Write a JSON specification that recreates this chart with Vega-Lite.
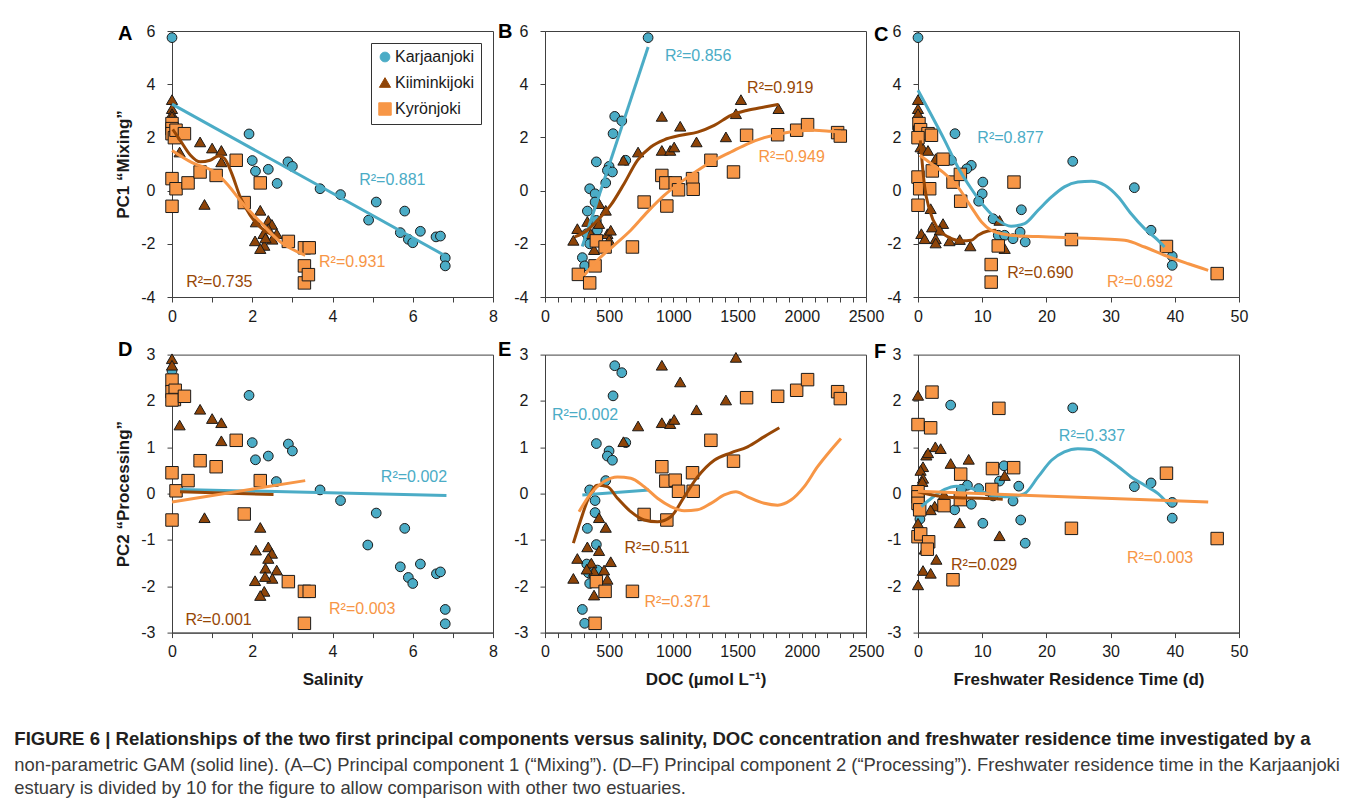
{
  "$schema": "https://vega.github.io/schema/vega-lite/v6.json",
  "background": "white",
  "padding": {"left": 14, "top": 21, "right": 5, "bottom": 5},
  "config": {
    "font": "Liberation Sans",
    "view": {"stroke": "#404040", "strokeWidth": 1},
    "axis": {"grid": false, "domainColor": "#404040", "tickColor": "#404040", "tickSize": 5, "labelFont": "Liberation Sans", "labelFontSize": 16, "labelColor": "#1a1a1a", "titleFont": "Liberation Sans", "titleFontSize": 17, "titleFontWeight": "bold", "titleColor": "#1a1a1a", "labelFlush": false, "labelOverlap": false, "labelBound": false},
    "axisX": {"labelPadding": 6, "titlePadding": 12},
    "axisY": {"labelPadding": 12, "titlePadding": 8}
  },
  "title": {
    "text": ["FIGURE 6 | Relationships of the two first principal components versus salinity, DOC concentration and freshwater residence time investigated by a"],
    "subtitle": ["non-parametric GAM (solid line). (A–C) Principal component 1 (“Mixing”). (D–F) Principal component 2 (“Processing”). Freshwater residence time in the Karjaanjoki", "estuary is divided by 10 for the figure to allow comparison with other two estuaries."],
    "orient": "bottom", "anchor": "start", "frame": "bounds", "dx": -100, "offset": 42,
    "font": "Liberation Sans", "fontSize": 18.6, "fontWeight": "bold", "color": "#231f20", "lineHeight": 23,
    "subtitleFont": "Liberation Sans", "subtitleFontSize": 18.4, "subtitleFontWeight": "normal", "subtitleColor": "#3a3a3a", "subtitleLineHeight": 23.5, "subtitlePadding": 7
  },
  "datasets": {
    "pts": [
      {"p":"A","r":"Karjaanjoki","x":0,"y":5.75},{"p":"A","r":"Karjaanjoki","x":1.92,"y":2.13},{"p":"A","r":"Karjaanjoki","x":2.0,"y":1.13},{"p":"A","r":"Karjaanjoki","x":2.08,"y":0.73},{"p":"A","r":"Karjaanjoki","x":2.4,"y":0.8},{"p":"A","r":"Karjaanjoki","x":2.62,"y":0.27},{"p":"A","r":"Karjaanjoki","x":2.89,"y":1.08},{"p":"A","r":"Karjaanjoki","x":3.0,"y":0.91},{"p":"A","r":"Karjaanjoki","x":3.69,"y":0.07},{"p":"A","r":"Karjaanjoki","x":4.2,"y":-0.15},{"p":"A","r":"Karjaanjoki","x":5.09,"y":-0.43},{"p":"A","r":"Karjaanjoki","x":4.9,"y":-1.11},{"p":"A","r":"Karjaanjoki","x":5.8,"y":-0.77},{"p":"A","r":"Karjaanjoki","x":5.69,"y":-1.58},{"p":"A","r":"Karjaanjoki","x":5.89,"y":-1.83},{"p":"A","r":"Karjaanjoki","x":6.0,"y":-1.96},{"p":"A","r":"Karjaanjoki","x":6.19,"y":-1.53},{"p":"A","r":"Karjaanjoki","x":6.58,"y":-1.74},{"p":"A","r":"Karjaanjoki","x":6.69,"y":-1.71},{"p":"A","r":"Karjaanjoki","x":6.81,"y":-2.53},{"p":"A","r":"Karjaanjoki","x":6.81,"y":-2.83},
      {"p":"A","r":"Kiiminkijoki","x":0,"y":3.42},{"p":"A","r":"Kiiminkijoki","x":0,"y":3.08},{"p":"A","r":"Kiiminkijoki","x":0,"y":2.89},{"p":"A","r":"Kiiminkijoki","x":0,"y":2.79},{"p":"A","r":"Kiiminkijoki","x":0.19,"y":1.45},{"p":"A","r":"Kiiminkijoki","x":0.7,"y":1.83},{"p":"A","r":"Kiiminkijoki","x":1.0,"y":1.6},{"p":"A","r":"Kiiminkijoki","x":1.23,"y":1.51},{"p":"A","r":"Kiiminkijoki","x":1.23,"y":1.08},{"p":"A","r":"Kiiminkijoki","x":0.81,"y":-0.52},{"p":"A","r":"Kiiminkijoki","x":2.2,"y":-0.74},{"p":"A","r":"Kiiminkijoki","x":2.09,"y":-1.18},{"p":"A","r":"Kiiminkijoki","x":2.4,"y":-1.12},{"p":"A","r":"Kiiminkijoki","x":2.49,"y":-1.27},{"p":"A","r":"Kiiminkijoki","x":2.4,"y":-1.43},{"p":"A","r":"Kiiminkijoki","x":2.28,"y":-1.62},{"p":"A","r":"Kiiminkijoki","x":2.61,"y":-1.62},{"p":"A","r":"Kiiminkijoki","x":2.5,"y":-1.83},{"p":"A","r":"Kiiminkijoki","x":2.07,"y":-1.89},{"p":"A","r":"Kiiminkijoki","x":2.3,"y":-2.06},{"p":"A","r":"Kiiminkijoki","x":2.2,"y":-2.18},{"p":"A","r":"Kiiminkijoki","x":2.33,"y":-1.78},
      {"p":"A","r":"Kyrönjoki","x":0,"y":2.52},{"p":"A","r":"Kyrönjoki","x":0,"y":2.33},{"p":"A","r":"Kyrönjoki","x":0,"y":2.14},{"p":"A","r":"Kyrönjoki","x":0.06,"y":1.99},{"p":"A","r":"Kyrönjoki","x":0.1,"y":2.27},{"p":"A","r":"Kyrönjoki","x":0.31,"y":2.14},{"p":"A","r":"Kyrönjoki","x":0,"y":0.45},{"p":"A","r":"Kyrönjoki","x":0.1,"y":0.07},{"p":"A","r":"Kyrönjoki","x":0.4,"y":0.29},{"p":"A","r":"Kyrönjoki","x":0.7,"y":0.7},{"p":"A","r":"Kyrönjoki","x":1.1,"y":0.57},{"p":"A","r":"Kyrönjoki","x":1.6,"y":1.14},{"p":"A","r":"Kyrönjoki","x":2.2,"y":0.29},{"p":"A","r":"Kyrönjoki","x":1.8,"y":-0.45},{"p":"A","r":"Kyrönjoki","x":0,"y":-0.59},{"p":"A","r":"Kyrönjoki","x":2.9,"y":-1.91},{"p":"A","r":"Kyrönjoki","x":3.3,"y":-2.15},{"p":"A","r":"Kyrönjoki","x":3.42,"y":-2.15},{"p":"A","r":"Kyrönjoki","x":3.3,"y":-2.83},{"p":"A","r":"Kyrönjoki","x":3.3,"y":-3.47},{"p":"A","r":"Kyrönjoki","x":3.4,"y":-3.16},

      {"p":"B","r":"Karjaanjoki","x":803,"y":5.75},{"p":"B","r":"Karjaanjoki","x":543,"y":2.79},{"p":"B","r":"Karjaanjoki","x":598,"y":2.62},{"p":"B","r":"Karjaanjoki","x":530,"y":2.14},{"p":"B","r":"Karjaanjoki","x":400,"y":1.08},{"p":"B","r":"Karjaanjoki","x":629,"y":1.14},{"p":"B","r":"Karjaanjoki","x":499,"y":0.91},{"p":"B","r":"Karjaanjoki","x":486,"y":0.76},{"p":"B","r":"Karjaanjoki","x":525,"y":0.7},{"p":"B","r":"Karjaanjoki","x":473,"y":0.29},{"p":"B","r":"Karjaanjoki","x":348,"y":0.07},{"p":"B","r":"Karjaanjoki","x":390,"y":-0.12},{"p":"B","r":"Karjaanjoki","x":390,"y":-0.43},{"p":"B","r":"Karjaanjoki","x":330,"y":-0.77},{"p":"B","r":"Karjaanjoki","x":400,"y":-1.12},{"p":"B","r":"Karjaanjoki","x":325,"y":-1.62},{"p":"B","r":"Karjaanjoki","x":338,"y":-1.85},{"p":"B","r":"Karjaanjoki","x":348,"y":-2.0},{"p":"B","r":"Karjaanjoki","x":291,"y":-2.52},{"p":"B","r":"Karjaanjoki","x":309,"y":-2.83},{"p":"B","r":"Karjaanjoki","x":408,"y":-1.49},
      {"p":"B","r":"Kiiminkijoki","x":221,"y":-1.87},{"p":"B","r":"Kiiminkijoki","x":252,"y":-1.43},{"p":"B","r":"Kiiminkijoki","x":330,"y":-1.16},{"p":"B","r":"Kiiminkijoki","x":356,"y":-1.62},{"p":"B","r":"Kiiminkijoki","x":382,"y":-2.22},{"p":"B","r":"Kiiminkijoki","x":421,"y":-1.24},{"p":"B","r":"Kiiminkijoki","x":421,"y":-0.49},{"p":"B","r":"Kiiminkijoki","x":473,"y":-0.74},{"p":"B","r":"Kiiminkijoki","x":486,"y":-1.62},{"p":"B","r":"Kiiminkijoki","x":499,"y":-1.85},{"p":"B","r":"Kiiminkijoki","x":512,"y":-1.49},{"p":"B","r":"Kiiminkijoki","x":611,"y":1.14},{"p":"B","r":"Kiiminkijoki","x":725,"y":1.45},{"p":"B","r":"Kiiminkijoki","x":910,"y":2.79},{"p":"B","r":"Kiiminkijoki","x":910,"y":1.51},{"p":"B","r":"Kiiminkijoki","x":975,"y":1.51},{"p":"B","r":"Kiiminkijoki","x":1006,"y":1.64},{"p":"B","r":"Kiiminkijoki","x":1053,"y":2.42},{"p":"B","r":"Kiiminkijoki","x":1180,"y":1.83},{"p":"B","r":"Kiiminkijoki","x":1409,"y":2.02},{"p":"B","r":"Kiiminkijoki","x":1487,"y":2.89},{"p":"B","r":"Kiiminkijoki","x":1526,"y":3.42},{"p":"B","r":"Kiiminkijoki","x":1819,"y":3.08},
      {"p":"B","r":"Kyrönjoki","x":260,"y":-3.15},{"p":"B","r":"Kyrönjoki","x":348,"y":-3.47},{"p":"B","r":"Kyrönjoki","x":390,"y":-2.83},{"p":"B","r":"Kyrönjoki","x":400,"y":-1.89},{"p":"B","r":"Kyrönjoki","x":468,"y":-2.12},{"p":"B","r":"Kyrönjoki","x":681,"y":-2.12},{"p":"B","r":"Kyrönjoki","x":772,"y":-0.43},{"p":"B","r":"Kyrönjoki","x":910,"y":0.57},{"p":"B","r":"Kyrönjoki","x":941,"y":0.29},{"p":"B","r":"Kyrönjoki","x":949,"y":-0.58},{"p":"B","r":"Kyrönjoki","x":1014,"y":0.29},{"p":"B","r":"Kyrönjoki","x":1040,"y":0.03},{"p":"B","r":"Kyrönjoki","x":1149,"y":0.45},{"p":"B","r":"Kyrönjoki","x":1154,"y":0.05},{"p":"B","r":"Kyrönjoki","x":1292,"y":1.14},{"p":"B","r":"Kyrönjoki","x":1468,"y":0.7},{"p":"B","r":"Kyrönjoki","x":1570,"y":2.08},{"p":"B","r":"Kyrönjoki","x":1812,"y":2.1},{"p":"B","r":"Kyrönjoki","x":1960,"y":2.27},{"p":"B","r":"Kyrönjoki","x":2045,"y":2.48},{"p":"B","r":"Kyrönjoki","x":2279,"y":2.18},{"p":"B","r":"Kyrönjoki","x":2300,"y":2.05},

      {"p":"C","r":"Karjaanjoki","x":0,"y":5.75},{"p":"C","r":"Karjaanjoki","x":5.76,"y":2.14},{"p":"C","r":"Karjaanjoki","x":5.19,"y":1.14},{"p":"C","r":"Karjaanjoki","x":8.3,"y":0.95},{"p":"C","r":"Karjaanjoki","x":7.6,"y":0.82},{"p":"C","r":"Karjaanjoki","x":10.1,"y":0.32},{"p":"C","r":"Karjaanjoki","x":10.0,"y":-0.12},{"p":"C","r":"Karjaanjoki","x":9.45,"y":-0.4},{"p":"C","r":"Karjaanjoki","x":11.7,"y":-1.06},{"p":"C","r":"Karjaanjoki","x":16.1,"y":-0.72},{"p":"C","r":"Karjaanjoki","x":15.9,"y":-1.56},{"p":"C","r":"Karjaanjoki","x":12.5,"y":-1.68},{"p":"C","r":"Karjaanjoki","x":13.5,"y":-1.68},{"p":"C","r":"Karjaanjoki","x":14.8,"y":-1.81},{"p":"C","r":"Karjaanjoki","x":16.7,"y":-1.93},{"p":"C","r":"Karjaanjoki","x":24.1,"y":1.1},{"p":"C","r":"Karjaanjoki","x":33.7,"y":0.11},{"p":"C","r":"Karjaanjoki","x":36.3,"y":-1.49},{"p":"C","r":"Karjaanjoki","x":39.6,"y":-2.47},{"p":"C","r":"Karjaanjoki","x":39.6,"y":-2.81},
      {"p":"C","r":"Kiiminkijoki","x":0,"y":3.42},{"p":"C","r":"Kiiminkijoki","x":0,"y":3.08},{"p":"C","r":"Kiiminkijoki","x":0,"y":2.89},{"p":"C","r":"Kiiminkijoki","x":0.4,"y":1.64},{"p":"C","r":"Kiiminkijoki","x":0.8,"y":1.58},{"p":"C","r":"Kiiminkijoki","x":1.56,"y":1.51},{"p":"C","r":"Kiiminkijoki","x":2.75,"y":1.2},{"p":"C","r":"Kiiminkijoki","x":1.97,"y":-0.68},{"p":"C","r":"Kiiminkijoki","x":3.9,"y":-1.24},{"p":"C","r":"Kiiminkijoki","x":2.2,"y":-1.37},{"p":"C","r":"Kiiminkijoki","x":3.4,"y":-1.49},{"p":"C","r":"Kiiminkijoki","x":0.52,"y":-1.62},{"p":"C","r":"Kiiminkijoki","x":1.04,"y":-1.81},{"p":"C","r":"Kiiminkijoki","x":2.75,"y":-1.81},{"p":"C","r":"Kiiminkijoki","x":4.9,"y":-1.89},{"p":"C","r":"Kiiminkijoki","x":6.5,"y":-1.84},{"p":"C","r":"Kiiminkijoki","x":8.15,"y":-2.08},{"p":"C","r":"Kiiminkijoki","x":2.75,"y":-1.97},{"p":"C","r":"Kiiminkijoki","x":12.7,"y":-1.12},{"p":"C","r":"Kiiminkijoki","x":13.5,"y":-2.18},
      {"p":"C","r":"Kyrönjoki","x":0.15,"y":2.52},{"p":"C","r":"Kyrönjoki","x":0.26,"y":2.2},{"p":"C","r":"Kyrönjoki","x":0.4,"y":2.29},{"p":"C","r":"Kyrönjoki","x":1.56,"y":2.14},{"p":"C","r":"Kyrönjoki","x":2.1,"y":2.08},{"p":"C","r":"Kyrönjoki","x":0,"y":1.99},{"p":"C","r":"Kyrönjoki","x":0,"y":0.51},{"p":"C","r":"Kyrönjoki","x":0.26,"y":0.07},{"p":"C","r":"Kyrönjoki","x":1.82,"y":0.07},{"p":"C","r":"Kyrönjoki","x":2.23,"y":0.74},{"p":"C","r":"Kyrönjoki","x":3.9,"y":1.18},{"p":"C","r":"Kyrönjoki","x":5.45,"y":0.32},{"p":"C","r":"Kyrönjoki","x":6.6,"y":0.61},{"p":"C","r":"Kyrönjoki","x":6.65,"y":-0.4},{"p":"C","r":"Kyrönjoki","x":14.95,"y":0.32},{"p":"C","r":"Kyrönjoki","x":0,"y":-0.55},{"p":"C","r":"Kyrönjoki","x":12.5,"y":-2.08},{"p":"C","r":"Kyrönjoki","x":11.4,"y":-2.78},{"p":"C","r":"Kyrönjoki","x":11.4,"y":-3.44},{"p":"C","r":"Kyrönjoki","x":23.9,"y":-1.84},{"p":"C","r":"Kyrönjoki","x":38.7,"y":-2.1},{"p":"C","r":"Kyrönjoki","x":46.6,"y":-3.12},

      {"p":"D","r":"Karjaanjoki","x":0,"y":2.65},{"p":"D","r":"Karjaanjoki","x":1.92,"y":2.12},{"p":"D","r":"Karjaanjoki","x":2.0,"y":1.1},{"p":"D","r":"Karjaanjoki","x":2.08,"y":0.73},{"p":"D","r":"Karjaanjoki","x":2.4,"y":0.81},{"p":"D","r":"Karjaanjoki","x":2.6,"y":0.26},{"p":"D","r":"Karjaanjoki","x":2.9,"y":1.07},{"p":"D","r":"Karjaanjoki","x":3.0,"y":0.92},{"p":"D","r":"Karjaanjoki","x":3.69,"y":0.08},{"p":"D","r":"Karjaanjoki","x":4.2,"y":-0.15},{"p":"D","r":"Karjaanjoki","x":5.09,"y":-0.42},{"p":"D","r":"Karjaanjoki","x":4.88,"y":-1.11},{"p":"D","r":"Karjaanjoki","x":5.8,"y":-0.75},{"p":"D","r":"Karjaanjoki","x":5.69,"y":-1.58},{"p":"D","r":"Karjaanjoki","x":5.89,"y":-1.81},{"p":"D","r":"Karjaanjoki","x":6.0,"y":-1.94},{"p":"D","r":"Karjaanjoki","x":6.19,"y":-1.52},{"p":"D","r":"Karjaanjoki","x":6.59,"y":-1.73},{"p":"D","r":"Karjaanjoki","x":6.69,"y":-1.69},{"p":"D","r":"Karjaanjoki","x":6.81,"y":-2.5},{"p":"D","r":"Karjaanjoki","x":6.81,"y":-2.81},
      {"p":"D","r":"Kiiminkijoki","x":0,"y":2.91},{"p":"D","r":"Kiiminkijoki","x":0,"y":2.77},{"p":"D","r":"Kiiminkijoki","x":0,"y":2.09},{"p":"D","r":"Kiiminkijoki","x":0.19,"y":1.48},{"p":"D","r":"Kiiminkijoki","x":0.7,"y":1.82},{"p":"D","r":"Kiiminkijoki","x":1.0,"y":1.62},{"p":"D","r":"Kiiminkijoki","x":1.23,"y":1.53},{"p":"D","r":"Kiiminkijoki","x":1.23,"y":1.14},{"p":"D","r":"Kiiminkijoki","x":0.81,"y":-0.52},{"p":"D","r":"Kiiminkijoki","x":2.2,"y":-0.73},{"p":"D","r":"Kiiminkijoki","x":2.09,"y":-1.22},{"p":"D","r":"Kiiminkijoki","x":2.4,"y":-1.15},{"p":"D","r":"Kiiminkijoki","x":2.49,"y":-1.29},{"p":"D","r":"Kiiminkijoki","x":2.4,"y":-1.4},{"p":"D","r":"Kiiminkijoki","x":2.33,"y":-1.61},{"p":"D","r":"Kiiminkijoki","x":2.61,"y":-1.65},{"p":"D","r":"Kiiminkijoki","x":2.5,"y":-1.83},{"p":"D","r":"Kiiminkijoki","x":2.07,"y":-1.88},{"p":"D","r":"Kiiminkijoki","x":2.3,"y":-2.11},{"p":"D","r":"Kiiminkijoki","x":2.2,"y":-2.2},{"p":"D","r":"Kiiminkijoki","x":2.32,"y":-1.79},
      {"p":"D","r":"Kyrönjoki","x":0,"y":2.45},{"p":"D","r":"Kyrönjoki","x":0,"y":2.2},{"p":"D","r":"Kyrönjoki","x":0.08,"y":2.23},{"p":"D","r":"Kyrönjoki","x":0.06,"y":2.03},{"p":"D","r":"Kyrönjoki","x":0,"y":2.02},{"p":"D","r":"Kyrönjoki","x":0.31,"y":2.1},{"p":"D","r":"Kyrönjoki","x":0,"y":0.45},{"p":"D","r":"Kyrönjoki","x":0.1,"y":0.06},{"p":"D","r":"Kyrönjoki","x":0.4,"y":0.28},{"p":"D","r":"Kyrönjoki","x":0.7,"y":0.71},{"p":"D","r":"Kyrönjoki","x":1.1,"y":0.58},{"p":"D","r":"Kyrönjoki","x":1.6,"y":1.15},{"p":"D","r":"Kyrönjoki","x":2.2,"y":0.28},{"p":"D","r":"Kyrönjoki","x":1.8,"y":-0.44},{"p":"D","r":"Kyrönjoki","x":0,"y":-0.57},{"p":"D","r":"Kyrönjoki","x":2.9,"y":-1.9},{"p":"D","r":"Kyrönjoki","x":3.3,"y":-2.11},{"p":"D","r":"Kyrönjoki","x":3.42,"y":-2.11},{"p":"D","r":"Kyrönjoki","x":3.3,"y":-2.8},

      {"p":"E","r":"Karjaanjoki","x":543,"y":2.76},{"p":"E","r":"Karjaanjoki","x":598,"y":2.61},{"p":"E","r":"Karjaanjoki","x":530,"y":2.11},{"p":"E","r":"Karjaanjoki","x":400,"y":1.08},{"p":"E","r":"Karjaanjoki","x":629,"y":1.1},{"p":"E","r":"Karjaanjoki","x":499,"y":0.92},{"p":"E","r":"Karjaanjoki","x":486,"y":0.81},{"p":"E","r":"Karjaanjoki","x":525,"y":0.72},{"p":"E","r":"Karjaanjoki","x":473,"y":0.28},{"p":"E","r":"Karjaanjoki","x":348,"y":0.08},{"p":"E","r":"Karjaanjoki","x":390,"y":-0.15},{"p":"E","r":"Karjaanjoki","x":390,"y":-0.41},{"p":"E","r":"Karjaanjoki","x":330,"y":-0.75},{"p":"E","r":"Karjaanjoki","x":400,"y":-1.1},{"p":"E","r":"Karjaanjoki","x":325,"y":-1.52},{"p":"E","r":"Karjaanjoki","x":338,"y":-1.71},{"p":"E","r":"Karjaanjoki","x":348,"y":-1.94},{"p":"E","r":"Karjaanjoki","x":291,"y":-2.5},{"p":"E","r":"Karjaanjoki","x":309,"y":-2.8},{"p":"E","r":"Karjaanjoki","x":408,"y":-1.65},
      {"p":"E","r":"Kiiminkijoki","x":221,"y":-1.83},{"p":"E","r":"Kiiminkijoki","x":252,"y":-1.4},{"p":"E","r":"Kiiminkijoki","x":330,"y":-1.15},{"p":"E","r":"Kiiminkijoki","x":361,"y":-1.5},{"p":"E","r":"Kiiminkijoki","x":382,"y":-2.19},{"p":"E","r":"Kiiminkijoki","x":421,"y":-1.23},{"p":"E","r":"Kiiminkijoki","x":421,"y":-0.52},{"p":"E","r":"Kiiminkijoki","x":473,"y":-0.73},{"p":"E","r":"Kiiminkijoki","x":382,"y":-1.68},{"p":"E","r":"Kiiminkijoki","x":486,"y":-1.85},{"p":"E","r":"Kiiminkijoki","x":512,"y":-1.47},{"p":"E","r":"Kiiminkijoki","x":460,"y":-1.65},{"p":"E","r":"Kiiminkijoki","x":611,"y":1.12},{"p":"E","r":"Kiiminkijoki","x":725,"y":1.46},{"p":"E","r":"Kiiminkijoki","x":910,"y":2.77},{"p":"E","r":"Kiiminkijoki","x":910,"y":1.53},{"p":"E","r":"Kiiminkijoki","x":975,"y":1.51},{"p":"E","r":"Kiiminkijoki","x":1006,"y":1.6},{"p":"E","r":"Kiiminkijoki","x":1053,"y":2.41},{"p":"E","r":"Kiiminkijoki","x":1180,"y":1.81},{"p":"E","r":"Kiiminkijoki","x":1409,"y":2.02},{"p":"E","r":"Kiiminkijoki","x":1487,"y":2.94},{"p":"E","r":"Kiiminkijoki","x":325,"y":-1.63},
      {"p":"E","r":"Kyrönjoki","x":390,"y":-2.8},{"p":"E","r":"Kyrönjoki","x":400,"y":-1.9},{"p":"E","r":"Kyrönjoki","x":468,"y":-2.11},{"p":"E","r":"Kyrönjoki","x":681,"y":-2.11},{"p":"E","r":"Kyrönjoki","x":772,"y":-0.45},{"p":"E","r":"Kyrönjoki","x":910,"y":0.58},{"p":"E","r":"Kyrönjoki","x":941,"y":0.27},{"p":"E","r":"Kyrönjoki","x":949,"y":-0.57},{"p":"E","r":"Kyrönjoki","x":1014,"y":0.29},{"p":"E","r":"Kyrönjoki","x":1040,"y":0.05},{"p":"E","r":"Kyrönjoki","x":1149,"y":0.45},{"p":"E","r":"Kyrönjoki","x":1154,"y":0.05},{"p":"E","r":"Kyrönjoki","x":1292,"y":1.15},{"p":"E","r":"Kyrönjoki","x":1468,"y":0.7},{"p":"E","r":"Kyrönjoki","x":1570,"y":2.07},{"p":"E","r":"Kyrönjoki","x":1812,"y":2.1},{"p":"E","r":"Kyrönjoki","x":1960,"y":2.23},{"p":"E","r":"Kyrönjoki","x":2045,"y":2.46},{"p":"E","r":"Kyrönjoki","x":2279,"y":2.2},{"p":"E","r":"Kyrönjoki","x":2300,"y":2.05},

      {"p":"F","r":"Karjaanjoki","x":5.09,"y":1.91},{"p":"F","r":"Karjaanjoki","x":24.1,"y":1.85},{"p":"F","r":"Karjaanjoki","x":13.4,"y":0.6},{"p":"F","r":"Karjaanjoki","x":12.7,"y":0.27},{"p":"F","r":"Karjaanjoki","x":15.7,"y":0.16},{"p":"F","r":"Karjaanjoki","x":9.45,"y":0.11},{"p":"F","r":"Karjaanjoki","x":7.7,"y":0.18},{"p":"F","r":"Karjaanjoki","x":6.75,"y":0.09},{"p":"F","r":"Karjaanjoki","x":8.3,"y":-0.23},{"p":"F","r":"Karjaanjoki","x":11.7,"y":-0.05},{"p":"F","r":"Karjaanjoki","x":14.8,"y":-0.16},{"p":"F","r":"Karjaanjoki","x":5.71,"y":-0.35},{"p":"F","r":"Karjaanjoki","x":10.1,"y":-0.64},{"p":"F","r":"Karjaanjoki","x":16.0,"y":-0.57},{"p":"F","r":"Karjaanjoki","x":16.7,"y":-1.07},{"p":"F","r":"Karjaanjoki","x":33.7,"y":0.15},{"p":"F","r":"Karjaanjoki","x":36.3,"y":0.23},{"p":"F","r":"Karjaanjoki","x":39.6,"y":-0.19},{"p":"F","r":"Karjaanjoki","x":39.6,"y":-0.53},{"p":"F","r":"Karjaanjoki","x":0,"y":-0.35},{"p":"F","r":"Karjaanjoki","x":0.3,"y":-0.55},
      {"p":"F","r":"Kiiminkijoki","x":0,"y":2.12},{"p":"F","r":"Kiiminkijoki","x":0,"y":-1.97},{"p":"F","r":"Kiiminkijoki","x":0.78,"y":-1.66},{"p":"F","r":"Kiiminkijoki","x":1.97,"y":-1.72},{"p":"F","r":"Kiiminkijoki","x":2.86,"y":-1.42},{"p":"F","r":"Kiiminkijoki","x":1.04,"y":-1.2},{"p":"F","r":"Kiiminkijoki","x":0,"y":-0.64},{"p":"F","r":"Kiiminkijoki","x":1.3,"y":0.83},{"p":"F","r":"Kiiminkijoki","x":1.56,"y":0.88},{"p":"F","r":"Kiiminkijoki","x":2.7,"y":1.01},{"p":"F","r":"Kiiminkijoki","x":3.53,"y":0.97},{"p":"F","r":"Kiiminkijoki","x":0.78,"y":0.58},{"p":"F","r":"Kiiminkijoki","x":0.4,"y":0.5},{"p":"F","r":"Kiiminkijoki","x":0.78,"y":0.33},{"p":"F","r":"Kiiminkijoki","x":0.67,"y":0.26},{"p":"F","r":"Kiiminkijoki","x":5.09,"y":0.65},{"p":"F","r":"Kiiminkijoki","x":7.9,"y":0.74},{"p":"F","r":"Kiiminkijoki","x":4.05,"y":-0.02},{"p":"F","r":"Kiiminkijoki","x":2.6,"y":-0.27},{"p":"F","r":"Kiiminkijoki","x":1.97,"y":-0.35},{"p":"F","r":"Kiiminkijoki","x":6.5,"y":-0.63},{"p":"F","r":"Kiiminkijoki","x":12.7,"y":-0.91},{"p":"F","r":"Kiiminkijoki","x":13.5,"y":0.39},
      {"p":"F","r":"Kyrönjoki","x":2.18,"y":2.19},{"p":"F","r":"Kyrönjoki","x":0,"y":1.49},{"p":"F","r":"Kyrönjoki","x":1.97,"y":1.42},{"p":"F","r":"Kyrönjoki","x":12.6,"y":1.84},{"p":"F","r":"Kyrönjoki","x":0,"y":0.04},{"p":"F","r":"Kyrönjoki","x":0,"y":-0.07},{"p":"F","r":"Kyrönjoki","x":0,"y":-0.21},{"p":"F","r":"Kyrönjoki","x":0.26,"y":-0.35},{"p":"F","r":"Kyrönjoki","x":0,"y":-0.93},{"p":"F","r":"Kyrönjoki","x":0.42,"y":-0.87},{"p":"F","r":"Kyrönjoki","x":1.66,"y":-1.04},{"p":"F","r":"Kyrönjoki","x":1.45,"y":-1.2},{"p":"F","r":"Kyrönjoki","x":5.45,"y":-1.86},{"p":"F","r":"Kyrönjoki","x":6.65,"y":0.42},{"p":"F","r":"Kyrönjoki","x":6.6,"y":-0.13},{"p":"F","r":"Kyrönjoki","x":4.05,"y":-0.26},{"p":"F","r":"Kyrönjoki","x":11.6,"y":0.54},{"p":"F","r":"Kyrönjoki","x":11.5,"y":0.09},{"p":"F","r":"Kyrönjoki","x":14.9,"y":0.56},{"p":"F","r":"Kyrönjoki","x":23.9,"y":-0.75},{"p":"F","r":"Kyrönjoki","x":38.7,"y":0.44},{"p":"F","r":"Kyrönjoki","x":46.6,"y":-0.97}
    ],
    "gam": [
      {"p":"A","r":"Karjaanjoki","x":0,"y":3.25},{"p":"A","r":"Karjaanjoki","x":6.81,"y":-2.45},
      {"p":"A","r":"Kiiminkijoki","x":0.02,"y":2.3},{"p":"A","r":"Kiiminkijoki","x":0.2,"y":1.9},{"p":"A","r":"Kiiminkijoki","x":0.46,"y":1.33},{"p":"A","r":"Kiiminkijoki","x":0.7,"y":1.08},{"p":"A","r":"Kiiminkijoki","x":0.95,"y":1.14},{"p":"A","r":"Kiiminkijoki","x":1.16,"y":1.3},{"p":"A","r":"Kiiminkijoki","x":1.3,"y":1.22},{"p":"A","r":"Kiiminkijoki","x":1.49,"y":0.64},{"p":"A","r":"Kiiminkijoki","x":1.7,"y":-0.24},{"p":"A","r":"Kiiminkijoki","x":1.95,"y":-0.93},{"p":"A","r":"Kiiminkijoki","x":2.2,"y":-1.37},{"p":"A","r":"Kiiminkijoki","x":2.53,"y":-1.68},{"p":"A","r":"Kiiminkijoki","x":2.7,"y":-1.77},
      {"p":"A","r":"Kyrönjoki","x":0,"y":1.51},{"p":"A","r":"Kyrönjoki","x":0.5,"y":1.05},{"p":"A","r":"Kyrönjoki","x":1.12,"y":0.64},{"p":"A","r":"Kyrönjoki","x":1.4,"y":0.2},{"p":"A","r":"Kyrönjoki","x":1.7,"y":-0.37},{"p":"A","r":"Kyrönjoki","x":2.2,"y":-1.18},{"p":"A","r":"Kyrönjoki","x":2.7,"y":-1.93},{"p":"A","r":"Kyrönjoki","x":3.32,"y":-2.43},
      {"p":"B","r":"Karjaanjoki","x":290,"y":-2.1},{"p":"B","r":"Karjaanjoki","x":803,"y":5.4},
      {"p":"B","r":"Kiiminkijoki","x":231,"y":-1.74},{"p":"B","r":"Kiiminkijoki","x":330,"y":-1.49},{"p":"B","r":"Kiiminkijoki","x":408,"y":-1.12},{"p":"B","r":"Kiiminkijoki","x":512,"y":-0.55},{"p":"B","r":"Kiiminkijoki","x":616,"y":0.26},{"p":"B","r":"Kiiminkijoki","x":720,"y":1.14},{"p":"B","r":"Kiiminkijoki","x":824,"y":1.64},{"p":"B","r":"Kiiminkijoki","x":928,"y":1.91},{"p":"B","r":"Kiiminkijoki","x":1058,"y":2.08},{"p":"B","r":"Kiiminkijoki","x":1188,"y":2.2},{"p":"B","r":"Kiiminkijoki","x":1318,"y":2.45},{"p":"B","r":"Kiiminkijoki","x":1448,"y":2.83},{"p":"B","r":"Kiiminkijoki","x":1578,"y":3.02},{"p":"B","r":"Kiiminkijoki","x":1708,"y":3.14},{"p":"B","r":"Kiiminkijoki","x":1819,"y":3.24},
      {"p":"B","r":"Kyrönjoki","x":304,"y":-3.19},{"p":"B","r":"Kyrönjoki","x":408,"y":-2.62},{"p":"B","r":"Kyrönjoki","x":538,"y":-2.06},{"p":"B","r":"Kyrönjoki","x":668,"y":-1.49},{"p":"B","r":"Kyrönjoki","x":798,"y":-0.8},{"p":"B","r":"Kyrönjoki","x":928,"y":-0.18},{"p":"B","r":"Kyrönjoki","x":1058,"y":0.32},{"p":"B","r":"Kyrönjoki","x":1188,"y":0.76},{"p":"B","r":"Kyrönjoki","x":1318,"y":1.14},{"p":"B","r":"Kyrönjoki","x":1448,"y":1.45},{"p":"B","r":"Kyrönjoki","x":1578,"y":1.76},{"p":"B","r":"Kyrönjoki","x":1708,"y":1.99},{"p":"B","r":"Kyrönjoki","x":1837,"y":2.14},{"p":"B","r":"Kyrönjoki","x":1967,"y":2.24},{"p":"B","r":"Kyrönjoki","x":2097,"y":2.27},{"p":"B","r":"Kyrönjoki","x":2227,"y":2.23},{"p":"B","r":"Kyrönjoki","x":2305,"y":2.2},
      {"p":"C","r":"Karjaanjoki","x":0,"y":3.77},{"p":"C","r":"Karjaanjoki","x":2.1,"y":2.83},{"p":"C","r":"Karjaanjoki","x":4.15,"y":1.89},{"p":"C","r":"Karjaanjoki","x":6.2,"y":0.89},{"p":"C","r":"Karjaanjoki","x":8.3,"y":0.07},{"p":"C","r":"Karjaanjoki","x":10.4,"y":-0.62},{"p":"C","r":"Karjaanjoki","x":12.5,"y":-1.12},{"p":"C","r":"Karjaanjoki","x":14.5,"y":-1.34},{"p":"C","r":"Karjaanjoki","x":16.6,"y":-1.24},{"p":"C","r":"Karjaanjoki","x":18.7,"y":-0.74},{"p":"C","r":"Karjaanjoki","x":20.8,"y":-0.24},{"p":"C","r":"Karjaanjoki","x":22.8,"y":0.14},{"p":"C","r":"Karjaanjoki","x":24.9,"y":0.32},{"p":"C","r":"Karjaanjoki","x":27.0,"y":0.35},{"p":"C","r":"Karjaanjoki","x":29.1,"y":0.2},{"p":"C","r":"Karjaanjoki","x":31.2,"y":-0.24},{"p":"C","r":"Karjaanjoki","x":33.2,"y":-0.87},{"p":"C","r":"Karjaanjoki","x":35.3,"y":-1.43},{"p":"C","r":"Karjaanjoki","x":37.4,"y":-1.87},{"p":"C","r":"Karjaanjoki","x":38.4,"y":-2.12},
      {"p":"C","r":"Kiiminkijoki","x":0.36,"y":1.89},{"p":"C","r":"Kiiminkijoki","x":0.62,"y":1.14},{"p":"C","r":"Kiiminkijoki","x":1.04,"y":0.14},{"p":"C","r":"Kiiminkijoki","x":1.82,"y":-0.74},{"p":"C","r":"Kiiminkijoki","x":3.1,"y":-1.43},{"p":"C","r":"Kiiminkijoki","x":4.7,"y":-1.74},{"p":"C","r":"Kiiminkijoki","x":6.75,"y":-1.89},{"p":"C","r":"Kiiminkijoki","x":8.3,"y":-1.87},{"p":"C","r":"Kiiminkijoki","x":9.35,"y":-1.68},{"p":"C","r":"Kiiminkijoki","x":10.9,"y":-1.52},{"p":"C","r":"Kiiminkijoki","x":12.2,"y":-1.49},
      {"p":"C","r":"Kyrönjoki","x":0.26,"y":1.33},{"p":"C","r":"Kyrönjoki","x":2.1,"y":1.01},{"p":"C","r":"Kyrönjoki","x":4.15,"y":0.64},{"p":"C","r":"Kyrönjoki","x":6.2,"y":0.14},{"p":"C","r":"Kyrönjoki","x":8.3,"y":-0.62},{"p":"C","r":"Kyrönjoki","x":9.9,"y":-1.18},{"p":"C","r":"Kyrönjoki","x":11.4,"y":-1.49},{"p":"C","r":"Kyrönjoki","x":13.5,"y":-1.64},{"p":"C","r":"Kyrönjoki","x":16.1,"y":-1.71},{"p":"C","r":"Kyrönjoki","x":18.7,"y":-1.73},{"p":"C","r":"Kyrönjoki","x":23.9,"y":-1.77},{"p":"C","r":"Kyrönjoki","x":29.1,"y":-1.82},{"p":"C","r":"Kyrönjoki","x":32.2,"y":-1.87},{"p":"C","r":"Kyrönjoki","x":35.3,"y":-2.12},{"p":"C","r":"Kyrönjoki","x":38.4,"y":-2.43},{"p":"C","r":"Kyrönjoki","x":42.1,"y":-2.75},{"p":"C","r":"Kyrönjoki","x":45.2,"y":-3.0},
      {"p":"D","r":"Karjaanjoki","x":0.2,"y":0.09},{"p":"D","r":"Karjaanjoki","x":6.84,"y":-0.04},
      {"p":"D","r":"Kiiminkijoki","x":0.2,"y":0.04},{"p":"D","r":"Kiiminkijoki","x":2.53,"y":-0.02},
      {"p":"D","r":"Kyrönjoki","x":0,"y":-0.18},{"p":"D","r":"Kyrönjoki","x":3.32,"y":0.28},
      {"p":"E","r":"Karjaanjoki","x":291,"y":-0.03},{"p":"E","r":"Karjaanjoki","x":811,"y":0.08},
      {"p":"E","r":"Kiiminkijoki","x":221,"y":-1.07},{"p":"E","r":"Kiiminkijoki","x":278,"y":-0.57},{"p":"E","r":"Kiiminkijoki","x":343,"y":-0.07},{"p":"E","r":"Kiiminkijoki","x":408,"y":0.18},{"p":"E","r":"Kiiminkijoki","x":486,"y":0.15},{"p":"E","r":"Kiiminkijoki","x":564,"y":-0.1},{"p":"E","r":"Kiiminkijoki","x":668,"y":-0.39},{"p":"E","r":"Kiiminkijoki","x":772,"y":-0.57},{"p":"E","r":"Kiiminkijoki","x":876,"y":-0.61},{"p":"E","r":"Kiiminkijoki","x":980,"y":-0.5},{"p":"E","r":"Kiiminkijoki","x":1084,"y":-0.07},{"p":"E","r":"Kiiminkijoki","x":1188,"y":0.36},{"p":"E","r":"Kiiminkijoki","x":1318,"y":0.72},{"p":"E","r":"Kiiminkijoki","x":1448,"y":0.88},{"p":"E","r":"Kiiminkijoki","x":1578,"y":1.01},{"p":"E","r":"Kiiminkijoki","x":1708,"y":1.23},{"p":"E","r":"Kiiminkijoki","x":1825,"y":1.42},
      {"p":"E","r":"Kyrönjoki","x":265,"y":-0.39},{"p":"E","r":"Kyrönjoki","x":356,"y":0.0},{"p":"E","r":"Kyrönjoki","x":460,"y":0.26},{"p":"E","r":"Kyrönjoki","x":564,"y":0.36},{"p":"E","r":"Kyrönjoki","x":668,"y":0.33},{"p":"E","r":"Kyrönjoki","x":772,"y":0.15},{"p":"E","r":"Kyrönjoki","x":876,"y":-0.1},{"p":"E","r":"Kyrönjoki","x":980,"y":-0.28},{"p":"E","r":"Kyrönjoki","x":1084,"y":-0.37},{"p":"E","r":"Kyrönjoki","x":1188,"y":-0.35},{"p":"E","r":"Kyrönjoki","x":1292,"y":-0.21},{"p":"E","r":"Kyrönjoki","x":1396,"y":-0.03},{"p":"E","r":"Kyrönjoki","x":1487,"y":0.04},{"p":"E","r":"Kyrönjoki","x":1578,"y":-0.07},{"p":"E","r":"Kyrönjoki","x":1708,"y":-0.21},{"p":"E","r":"Kyrönjoki","x":1812,"y":-0.25},{"p":"E","r":"Kyrönjoki","x":1915,"y":-0.14},{"p":"E","r":"Kyrönjoki","x":2019,"y":0.15},{"p":"E","r":"Kyrönjoki","x":2123,"y":0.58},{"p":"E","r":"Kyrönjoki","x":2227,"y":0.94},{"p":"E","r":"Kyrönjoki","x":2305,"y":1.19},
      {"p":"F","r":"Karjaanjoki","x":0.52,"y":-0.28},{"p":"F","r":"Karjaanjoki","x":2.1,"y":-0.1},{"p":"F","r":"Karjaanjoki","x":4.15,"y":0.09},{"p":"F","r":"Karjaanjoki","x":5.97,"y":0.16},{"p":"F","r":"Karjaanjoki","x":7.8,"y":0.13},{"p":"F","r":"Karjaanjoki","x":9.9,"y":0.04},{"p":"F","r":"Karjaanjoki","x":12.5,"y":-0.05},{"p":"F","r":"Karjaanjoki","x":14.5,"y":-0.07},{"p":"F","r":"Karjaanjoki","x":16.6,"y":0.0},{"p":"F","r":"Karjaanjoki","x":18.7,"y":0.36},{"p":"F","r":"Karjaanjoki","x":20.8,"y":0.72},{"p":"F","r":"Karjaanjoki","x":22.8,"y":0.9},{"p":"F","r":"Karjaanjoki","x":24.9,"y":0.97},{"p":"F","r":"Karjaanjoki","x":27.0,"y":0.95},{"p":"F","r":"Karjaanjoki","x":29.1,"y":0.79},{"p":"F","r":"Karjaanjoki","x":31.2,"y":0.58},{"p":"F","r":"Karjaanjoki","x":33.2,"y":0.36},{"p":"F","r":"Karjaanjoki","x":35.3,"y":0.18},{"p":"F","r":"Karjaanjoki","x":37.4,"y":0.0},{"p":"F","r":"Karjaanjoki","x":38.9,"y":-0.21},
      {"p":"F","r":"Kiiminkijoki","x":0,"y":0.04},{"p":"F","r":"Kiiminkijoki","x":3.1,"y":-0.05},{"p":"F","r":"Kiiminkijoki","x":6.2,"y":-0.09},{"p":"F","r":"Kiiminkijoki","x":9.9,"y":-0.1},{"p":"F","r":"Kiiminkijoki","x":13.2,"y":-0.12},
      {"p":"F","r":"Kyrönjoki","x":0,"y":0.05},{"p":"F","r":"Kyrönjoki","x":45.2,"y":-0.18}
    ],
    "lab": [
      {"p":"A","r":"Karjaanjoki","x":5.49,"y":0.41,"t":"R²=0.881"},{"p":"A","r":"Kiiminkijoki","x":1.18,"y":-3.44,"t":"R²=0.735"},{"p":"A","r":"Kyrönjoki","x":4.49,"y":-2.68,"t":"R²=0.931"},
      {"p":"B","r":"Karjaanjoki","x":1193,"y":5.05,"t":"R²=0.856"},{"p":"B","r":"Kiiminkijoki","x":1832,"y":3.87,"t":"R²=0.919"},{"p":"B","r":"Kyrönjoki","x":1921,"y":1.26,"t":"R²=0.949"},
      {"p":"C","r":"Karjaanjoki","x":14.4,"y":1.98,"t":"R²=0.877"},{"p":"C","r":"Kiiminkijoki","x":19.06,"y":-3.1,"t":"R²=0.690"},{"p":"C","r":"Kyrönjoki","x":34.6,"y":-3.44,"t":"R²=0.692"},
      {"p":"D","r":"Karjaanjoki","x":6.03,"y":0.36,"t":"R²=0.002"},{"p":"D","r":"Kiiminkijoki","x":1.16,"y":-2.73,"t":"R²=0.001"},{"p":"D","r":"Kyrönjoki","x":4.74,"y":-2.5,"t":"R²=0.003"},
      {"p":"E","r":"Karjaanjoki","x":312,"y":1.69,"t":"R²=0.002"},{"p":"E","r":"Kiiminkijoki","x":873,"y":-1.18,"t":"R²=0.511"},{"p":"E","r":"Kyrönjoki","x":1032,"y":-2.33,"t":"R²=0.371"},
      {"p":"F","r":"Karjaanjoki","x":27.1,"y":1.24,"t":"R²=0.337"},{"p":"F","r":"Kiiminkijoki","x":10.3,"y":-1.54,"t":"R²=0.029"},{"p":"F","r":"Kyrönjoki","x":37.7,"y":-1.38,"t":"R²=0.003"}
    ]
  },
  "columns": 3,
  "bounds": "flush",
  "spacing": {"row": 57.6, "column": 52},
  "resolve": {"scale": {"color": "independent", "shape": "independent", "size": "independent", "stroke": "independent", "fill": "independent"}},
  "concat": [
    {
      "width": 321, "height": 266,
      "title": {"text": "A", "anchor": "start", "frame": "group", "dx": -54, "offset": -21, "fontSize": 20, "fontWeight": "bold", "color": "#000"},
      "layer": [
        {"data": {"name": "pts"}, "transform": [{"filter": "datum.p == 'A'"}],
         "mark": {"type": "point", "filled": true, "stroke": "#1a1a1a", "strokeWidth": 1, "opacity": 1},
         "encoding": {
           "x": {"field": "x", "type": "quantitative", "scale": {"domain": [0, 8], "nice": false, "zero": false}, "axis": {"title": null, "labelOverlap": false, "values": [0,0.5,1,1.5,2,2.5,3,3.5,4,4.5,5,5.5,6,6.5,7,7.5,8], "labelExpr": "datum.value % 2 == 0 ? toString(datum.value) : ''"}},
           "y": {"field": "y", "type": "quantitative", "scale": {"domain": [-4, 6], "nice": false, "zero": false}, "axis": {"title": "PC1 “Mixing”", "labelOverlap": false, "values": [-4,-3,-2,-1,0,1,2,3,4,5,6], "labelExpr": "datum.value % 2 == 0 ? toString(datum.value) : ''"}},
           "color": {"field": "r", "type": "nominal", "scale": {"domain": ["Karjaanjoki","Kiiminkijoki","Kyrönjoki"], "range": ["#4BACC6","#8E4408","#F79646"]}, "legend": {"orient": "top-right", "offset": 12, "title": null, "strokeColor": "#333", "fillColor": "white", "padding": 6, "rowPadding": 9.5, "labelFontSize": 16, "labelFont": "Liberation Sans", "labelColor": "#1a1a1a", "labelOffset": 2, "symbolSize": 55, "symbolStrokeColor": "#1a1a1a", "symbolStrokeWidth": 1}},
           "shape": {"field": "r", "type": "nominal", "scale": {"domain": ["Karjaanjoki","Kiiminkijoki","Kyrönjoki"], "range": ["circle","triangle-up","square"]}},
           "size": {"field": "r", "type": "nominal", "scale": {"domain": ["Karjaanjoki","Kiiminkijoki","Kyrönjoki"], "range": [95,155,115]}, "legend": null}
         }},
        {"data": {"name": "gam"}, "transform": [{"filter": "datum.p == 'A'"}],
         "mark": {"type": "line", "strokeWidth": 3, "interpolate": "monotone"},
         "encoding": {"x": {"field": "x", "type": "quantitative"}, "y": {"field": "y", "type": "quantitative"},
           "stroke": {"field": "r", "type": "nominal", "scale": {"domain": ["Karjaanjoki","Kiiminkijoki","Kyrönjoki"], "range": ["#4BACC6","#974706","#F79646"]}, "legend": null}}},
        {"data": {"name": "lab"}, "transform": [{"filter": "datum.p == 'A'"}],
         "mark": {"type": "text", "fontSize": 16, "font": "Liberation Sans", "align": "center", "baseline": "middle"},
         "encoding": {"x": {"field": "x", "type": "quantitative"}, "y": {"field": "y", "type": "quantitative"}, "text": {"field": "t"},
           "fill": {"field": "r", "type": "nominal", "scale": {"domain": ["Karjaanjoki","Kiiminkijoki","Kyrönjoki"], "range": ["#4BACC6","#974706","#F79646"]}, "legend": null}}}
      ]
    },
    {
      "width": 321, "height": 266,
      "title": {"text": "B", "anchor": "start", "frame": "group", "dx": -47, "offset": -19, "fontSize": 20, "fontWeight": "bold", "color": "#000"},
      "resolve": {"axis": {"x": "independent"}},
      "layer": [
        {"data": {"name": "pts"}, "transform": [{"filter": "datum.p == 'B'"}],
         "mark": {"type": "point", "filled": true, "stroke": "#1a1a1a", "strokeWidth": 1, "opacity": 1},
         "encoding": {
           "x": {"field": "x", "type": "quantitative", "scale": {"domain": [0, 2500], "nice": false, "zero": false}, "axis": {"orient": "bottom", "title": null, "labelOverlap": false, "values": [0,500,1000,1500,2000,2500], "format": "d"}},
           "y": {"field": "y", "type": "quantitative", "scale": {"domain": [-4, 6], "nice": false, "zero": false}, "axis": {"title": null, "labelOverlap": false, "values": [-4,-3,-2,-1,0,1,2,3,4,5,6], "labelExpr": "datum.value % 2 == 0 ? toString(datum.value) : ''"}},
           "color": {"field": "r", "type": "nominal", "scale": {"domain": ["Karjaanjoki","Kiiminkijoki","Kyrönjoki"], "range": ["#4BACC6","#8E4408","#F79646"]}, "legend": null},
           "shape": {"field": "r", "type": "nominal", "scale": {"domain": ["Karjaanjoki","Kiiminkijoki","Kyrönjoki"], "range": ["circle","triangle-up","square"]}, "legend": null},
           "size": {"field": "r", "type": "nominal", "scale": {"domain": ["Karjaanjoki","Kiiminkijoki","Kyrönjoki"], "range": [95,155,115]}, "legend": null}
         }},
        {"data": {"name": "gam"}, "transform": [{"filter": "datum.p == 'B'"}],
         "mark": {"type": "line", "strokeWidth": 3, "interpolate": "monotone"},
         "encoding": {"x": {"field": "x", "type": "quantitative", "axis": {"orient": "bottom", "title": null, "labels": false, "domain": false, "values": [100,200,300,400,600,700,800,900,1100,1200,1300,1400,1600,1700,1800,1900,2100,2200,2300,2400]}}, "y": {"field": "y", "type": "quantitative"},
           "stroke": {"field": "r", "type": "nominal", "scale": {"domain": ["Karjaanjoki","Kiiminkijoki","Kyrönjoki"], "range": ["#4BACC6","#974706","#F79646"]}, "legend": null}}},
        {"data": {"name": "lab"}, "transform": [{"filter": "datum.p == 'B'"}],
         "mark": {"type": "text", "fontSize": 16, "font": "Liberation Sans", "align": "center", "baseline": "middle"},
         "encoding": {"x": {"field": "x", "type": "quantitative", "axis": null}, "y": {"field": "y", "type": "quantitative"}, "text": {"field": "t"},
           "fill": {"field": "r", "type": "nominal", "scale": {"domain": ["Karjaanjoki","Kiiminkijoki","Kyrönjoki"], "range": ["#4BACC6","#974706","#F79646"]}, "legend": null}}}
      ]
    },
    {
      "width": 321, "height": 266,
      "title": {"text": "C", "anchor": "start", "frame": "group", "dx": -44, "offset": -22, "fontSize": 20, "fontWeight": "bold", "color": "#000"},
      "layer": [
        {"data": {"name": "pts"}, "transform": [{"filter": "datum.p == 'C'"}],
         "mark": {"type": "point", "filled": true, "stroke": "#1a1a1a", "strokeWidth": 1, "opacity": 1},
         "encoding": {
           "x": {"field": "x", "type": "quantitative", "scale": {"domain": [0, 50], "nice": false, "zero": false}, "axis": {"title": null, "labelOverlap": false, "values": [0,5,10,15,20,25,30,35,40,45,50], "labelExpr": "datum.value % 10 == 0 ? toString(datum.value) : ''"}},
           "y": {"field": "y", "type": "quantitative", "scale": {"domain": [-4, 6], "nice": false, "zero": false}, "axis": {"title": null, "labelOverlap": false, "values": [-4,-3,-2,-1,0,1,2,3,4,5,6], "labelExpr": "datum.value % 2 == 0 ? toString(datum.value) : ''"}},
           "color": {"field": "r", "type": "nominal", "scale": {"domain": ["Karjaanjoki","Kiiminkijoki","Kyrönjoki"], "range": ["#4BACC6","#8E4408","#F79646"]}, "legend": null},
           "shape": {"field": "r", "type": "nominal", "scale": {"domain": ["Karjaanjoki","Kiiminkijoki","Kyrönjoki"], "range": ["circle","triangle-up","square"]}, "legend": null},
           "size": {"field": "r", "type": "nominal", "scale": {"domain": ["Karjaanjoki","Kiiminkijoki","Kyrönjoki"], "range": [95,155,115]}, "legend": null}
         }},
        {"data": {"name": "gam"}, "transform": [{"filter": "datum.p == 'C'"}],
         "mark": {"type": "line", "strokeWidth": 3, "interpolate": "monotone"},
         "encoding": {"x": {"field": "x", "type": "quantitative"}, "y": {"field": "y", "type": "quantitative"},
           "stroke": {"field": "r", "type": "nominal", "scale": {"domain": ["Karjaanjoki","Kiiminkijoki","Kyrönjoki"], "range": ["#4BACC6","#974706","#F79646"]}, "legend": null}}},
        {"data": {"name": "lab"}, "transform": [{"filter": "datum.p == 'C'"}],
         "mark": {"type": "text", "fontSize": 16, "font": "Liberation Sans", "align": "center", "baseline": "middle"},
         "encoding": {"x": {"field": "x", "type": "quantitative"}, "y": {"field": "y", "type": "quantitative"}, "text": {"field": "t"},
           "fill": {"field": "r", "type": "nominal", "scale": {"domain": ["Karjaanjoki","Kiiminkijoki","Kyrönjoki"], "range": ["#4BACC6","#974706","#F79646"]}, "legend": null}}}
      ]
    },
    {
      "width": 321, "height": 278,
      "title": {"text": "D", "anchor": "start", "frame": "group", "dx": -54, "offset": -13, "fontSize": 20, "fontWeight": "bold", "color": "#000"},
      "layer": [
        {"data": {"name": "pts"}, "transform": [{"filter": "datum.p == 'D'"}],
         "mark": {"type": "point", "filled": true, "stroke": "#1a1a1a", "strokeWidth": 1, "opacity": 1},
         "encoding": {
           "x": {"field": "x", "type": "quantitative", "scale": {"domain": [0, 8], "nice": false, "zero": false}, "axis": {"title": "Salinity", "labelOverlap": false, "values": [0,0.5,1,1.5,2,2.5,3,3.5,4,4.5,5,5.5,6,6.5,7,7.5,8], "labelExpr": "datum.value % 2 == 0 ? toString(datum.value) : ''"}},
           "y": {"field": "y", "type": "quantitative", "scale": {"domain": [-3, 3], "nice": false, "zero": false}, "axis": {"title": "PC2 “Processing”", "labelOverlap": false, "values": [-3,-2.5,-2,-1.5,-1,-0.5,0,0.5,1,1.5,2,2.5,3], "labelExpr": "datum.value % 1 == 0 ? toString(datum.value) : ''"}},
           "color": {"field": "r", "type": "nominal", "scale": {"domain": ["Karjaanjoki","Kiiminkijoki","Kyrönjoki"], "range": ["#4BACC6","#8E4408","#F79646"]}, "legend": null},
           "shape": {"field": "r", "type": "nominal", "scale": {"domain": ["Karjaanjoki","Kiiminkijoki","Kyrönjoki"], "range": ["circle","triangle-up","square"]}, "legend": null},
           "size": {"field": "r", "type": "nominal", "scale": {"domain": ["Karjaanjoki","Kiiminkijoki","Kyrönjoki"], "range": [95,155,115]}, "legend": null}
         }},
        {"data": {"name": "gam"}, "transform": [{"filter": "datum.p == 'D'"}],
         "mark": {"type": "line", "strokeWidth": 3, "interpolate": "monotone"},
         "encoding": {"x": {"field": "x", "type": "quantitative"}, "y": {"field": "y", "type": "quantitative"},
           "stroke": {"field": "r", "type": "nominal", "scale": {"domain": ["Karjaanjoki","Kiiminkijoki","Kyrönjoki"], "range": ["#4BACC6","#974706","#F79646"]}, "legend": null}}},
        {"data": {"name": "lab"}, "transform": [{"filter": "datum.p == 'D'"}],
         "mark": {"type": "text", "fontSize": 16, "font": "Liberation Sans", "align": "center", "baseline": "middle"},
         "encoding": {"x": {"field": "x", "type": "quantitative"}, "y": {"field": "y", "type": "quantitative"}, "text": {"field": "t"},
           "fill": {"field": "r", "type": "nominal", "scale": {"domain": ["Karjaanjoki","Kiiminkijoki","Kyrönjoki"], "range": ["#4BACC6","#974706","#F79646"]}, "legend": null}}}
      ]
    },
    {
      "width": 321, "height": 278,
      "title": {"text": "E", "anchor": "start", "frame": "group", "dx": -47, "offset": -13, "fontSize": 20, "fontWeight": "bold", "color": "#000"},
      "resolve": {"axis": {"x": "independent"}},
      "layer": [
        {"data": {"name": "pts"}, "transform": [{"filter": "datum.p == 'E'"}],
         "mark": {"type": "point", "filled": true, "stroke": "#1a1a1a", "strokeWidth": 1, "opacity": 1},
         "encoding": {
           "x": {"field": "x", "type": "quantitative", "scale": {"domain": [0, 2500], "nice": false, "zero": false}, "axis": {"orient": "bottom", "title": "DOC (µmol L⁻¹)", "labelOverlap": false, "values": [0,500,1000,1500,2000,2500], "format": "d"}},
           "y": {"field": "y", "type": "quantitative", "scale": {"domain": [-3, 3], "nice": false, "zero": false}, "axis": {"title": null, "labelOverlap": false, "values": [-3,-2.5,-2,-1.5,-1,-0.5,0,0.5,1,1.5,2,2.5,3], "labelExpr": "datum.value % 1 == 0 ? toString(datum.value) : ''"}},
           "color": {"field": "r", "type": "nominal", "scale": {"domain": ["Karjaanjoki","Kiiminkijoki","Kyrönjoki"], "range": ["#4BACC6","#8E4408","#F79646"]}, "legend": null},
           "shape": {"field": "r", "type": "nominal", "scale": {"domain": ["Karjaanjoki","Kiiminkijoki","Kyrönjoki"], "range": ["circle","triangle-up","square"]}, "legend": null},
           "size": {"field": "r", "type": "nominal", "scale": {"domain": ["Karjaanjoki","Kiiminkijoki","Kyrönjoki"], "range": [95,155,115]}, "legend": null}
         }},
        {"data": {"name": "gam"}, "transform": [{"filter": "datum.p == 'E'"}],
         "mark": {"type": "line", "strokeWidth": 3, "interpolate": "monotone"},
         "encoding": {"x": {"field": "x", "type": "quantitative", "axis": {"orient": "bottom", "title": null, "labels": false, "domain": false, "values": [100,200,300,400,600,700,800,900,1100,1200,1300,1400,1600,1700,1800,1900,2100,2200,2300,2400]}}, "y": {"field": "y", "type": "quantitative"},
           "stroke": {"field": "r", "type": "nominal", "scale": {"domain": ["Karjaanjoki","Kiiminkijoki","Kyrönjoki"], "range": ["#4BACC6","#974706","#F79646"]}, "legend": null}}},
        {"data": {"name": "lab"}, "transform": [{"filter": "datum.p == 'E'"}],
         "mark": {"type": "text", "fontSize": 16, "font": "Liberation Sans", "align": "center", "baseline": "middle"},
         "encoding": {"x": {"field": "x", "type": "quantitative", "axis": null}, "y": {"field": "y", "type": "quantitative"}, "text": {"field": "t"},
           "fill": {"field": "r", "type": "nominal", "scale": {"domain": ["Karjaanjoki","Kiiminkijoki","Kyrönjoki"], "range": ["#4BACC6","#974706","#F79646"]}, "legend": null}}}
      ]
    },
    {
      "width": 321, "height": 278,
      "title": {"text": "F", "anchor": "start", "frame": "group", "dx": -44, "offset": -15, "fontSize": 20, "fontWeight": "bold", "color": "#000"},
      "layer": [
        {"data": {"name": "pts"}, "transform": [{"filter": "datum.p == 'F'"}],
         "mark": {"type": "point", "filled": true, "stroke": "#1a1a1a", "strokeWidth": 1, "opacity": 1},
         "encoding": {
           "x": {"field": "x", "type": "quantitative", "scale": {"domain": [0, 50], "nice": false, "zero": false}, "axis": {"title": "Freshwater Residence Time (d)", "labelOverlap": false, "values": [0,5,10,15,20,25,30,35,40,45,50], "labelExpr": "datum.value % 10 == 0 ? toString(datum.value) : ''"}},
           "y": {"field": "y", "type": "quantitative", "scale": {"domain": [-3, 3], "nice": false, "zero": false}, "axis": {"title": null, "labelOverlap": false, "values": [-3,-2.5,-2,-1.5,-1,-0.5,0,0.5,1,1.5,2,2.5,3], "labelExpr": "datum.value % 1 == 0 ? toString(datum.value) : ''"}},
           "color": {"field": "r", "type": "nominal", "scale": {"domain": ["Karjaanjoki","Kiiminkijoki","Kyrönjoki"], "range": ["#4BACC6","#8E4408","#F79646"]}, "legend": null},
           "shape": {"field": "r", "type": "nominal", "scale": {"domain": ["Karjaanjoki","Kiiminkijoki","Kyrönjoki"], "range": ["circle","triangle-up","square"]}, "legend": null},
           "size": {"field": "r", "type": "nominal", "scale": {"domain": ["Karjaanjoki","Kiiminkijoki","Kyrönjoki"], "range": [95,155,115]}, "legend": null}
         }},
        {"data": {"name": "gam"}, "transform": [{"filter": "datum.p == 'F'"}],
         "mark": {"type": "line", "strokeWidth": 3, "interpolate": "monotone"},
         "encoding": {"x": {"field": "x", "type": "quantitative"}, "y": {"field": "y", "type": "quantitative"},
           "stroke": {"field": "r", "type": "nominal", "scale": {"domain": ["Karjaanjoki","Kiiminkijoki","Kyrönjoki"], "range": ["#4BACC6","#974706","#F79646"]}, "legend": null}}},
        {"data": {"name": "lab"}, "transform": [{"filter": "datum.p == 'F'"}],
         "mark": {"type": "text", "fontSize": 16, "font": "Liberation Sans", "align": "center", "baseline": "middle"},
         "encoding": {"x": {"field": "x", "type": "quantitative"}, "y": {"field": "y", "type": "quantitative"}, "text": {"field": "t"},
           "fill": {"field": "r", "type": "nominal", "scale": {"domain": ["Karjaanjoki","Kiiminkijoki","Kyrönjoki"], "range": ["#4BACC6","#974706","#F79646"]}, "legend": null}}}
      ]
    }
  ]
}
